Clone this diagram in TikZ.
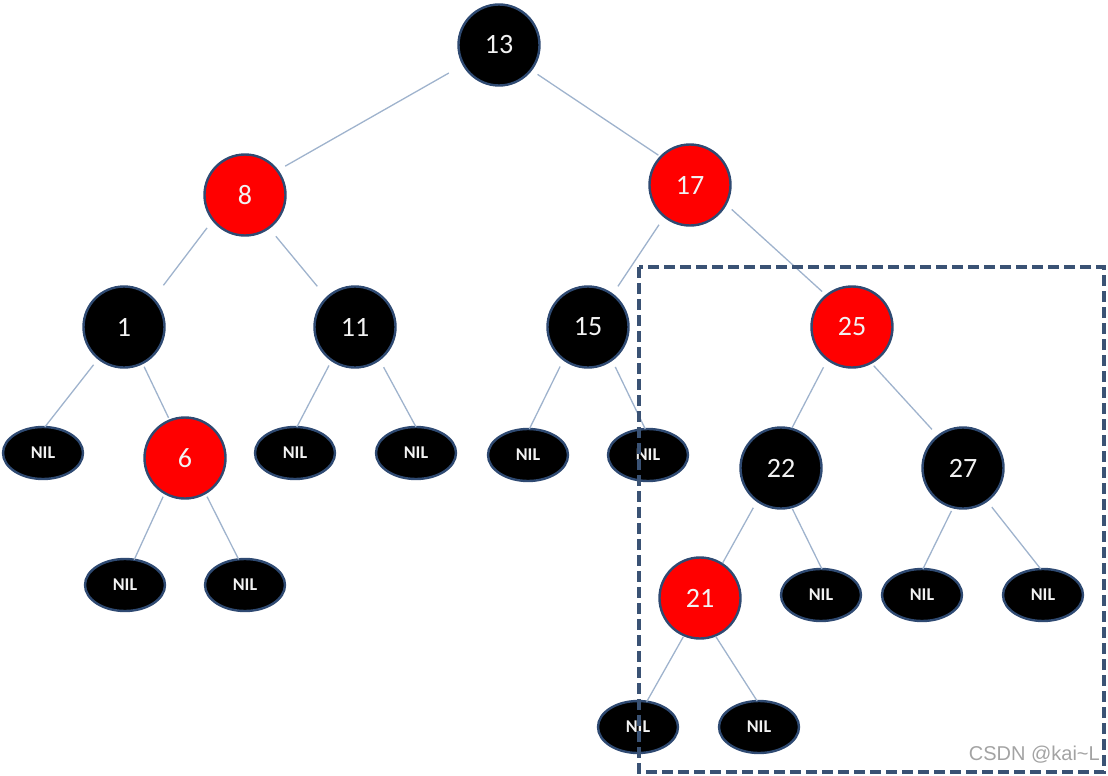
\documentclass[tikz,border=0pt]{standalone}
\usepackage{fontspec}
\setmainfont{Carlito}
\newfontfamily\wmfont{Liberation Sans}
\usetikzlibrary{shapes.geometric}
\definecolor{nodeedge}{HTML}{2F4A72}
\definecolor{edgecol}{HTML}{9FB3CD}
\definecolor{rbred}{HTML}{FF0000}
\definecolor{boxcol}{HTML}{3A5274}
\definecolor{txtcol}{HTML}{F2F2F2}
\definecolor{wmcol}{HTML}{A3A3A3}
\tikzset{
  rbnode/.style={circle, minimum size=81pt, inner sep=0pt, outer sep=0pt,
    draw=nodeedge, line width=2.4pt, text=txtcol,
    font=\fontsize{28}{28}\selectfont},
  blknode/.style={rbnode, fill=black},
  rednode/.style={rbnode, fill=rbred},
  nilnode/.style={ellipse, minimum width=80pt, minimum height=52pt, inner sep=0pt,
    outer sep=0pt, fill=black, draw=nodeedge, line width=2.4pt, text=txtcol,
    font=\fontsize{18}{18}\selectfont\bfseries},
  edge/.style={draw=edgecol, line width=1.3pt},
  regionbox/.style={draw=boxcol, line width=3.2pt, dash pattern=on 11pt off 5pt}
}
\begin{document}
\begin{tikzpicture}[x=1pt, y=-1pt]
\useasboundingbox (0,0) rectangle (1108,776);
% level 0
\node[blknode] (n13) at (499,45) {13};
% level 1
\node[rednode] (n8) at (245,195) {8};
\node[rednode] (n17) at (690,185) {17};
% level 2
\node[blknode] (n1) at (124,327) {1};
\node[blknode] (n11) at (355,327) {11};
\node[blknode] (n15) at (588,327) {15};
\node[rednode] (n25) at (852,327) {25};
% level 3
\node[nilnode] (nilA) at (43,453) {NIL};
\node[rednode] (n6) at (185,458) {6};
\node[nilnode] (nilB) at (295,453) {NIL};
\node[nilnode] (nilC) at (416,453) {NIL};
\node[nilnode] (nilD) at (528,455) {NIL};
\node[nilnode] (nilE) at (648,455) {NIL};
\node[blknode] (n22) at (781,468) {22};
\node[blknode] (n27) at (963,468) {27};
% level 4
\node[nilnode] (nilF) at (125,585) {NIL};
\node[nilnode] (nilG) at (245,585) {NIL};
\node[rednode] (n21) at (700,598) {21};
\node[nilnode] (nilH) at (821,595) {NIL};
\node[nilnode] (nilI) at (922,595) {NIL};
\node[nilnode] (nilJ) at (1043,595) {NIL};
% level 5
\node[nilnode] (nilK) at (638,727) {NIL};
\node[nilnode] (nilL) at (759,727) {NIL};
% edges
\draw[edge, shorten <=17pt, shorten >=9pt] (n13.209) -- (n8.37);
\draw[edge, shorten <=8pt, shorten >=3pt] (n13.322) -- (n17.136);
\draw[edge, shorten <=10pt, shorten >=10pt] (n17.231) -- (n15.53);
\draw[edge, shorten <=8pt, shorten >=6pt] (n17.332) -- (n25.129);
\draw[edge, shorten <=10pt, shorten >=17pt] (n8.218) -- (n1.44);
\draw[edge, shorten <=11pt, shorten >=15pt] (n8.306) -- (n11.134);
\draw[edge, shorten <=8pt] (n1.231) -- (nilA.86);
\draw[edge, shorten <=4pt, shorten >=3pt] (n1.297) -- (n6.112);
\draw[edge, shorten <=6pt] (n11.235) -- (nilB.86);
\draw[edge, shorten <=9pt] (n11.307) -- (nilC.90);
\draw[edge, shorten <=8pt] (n15.233) -- (nilD.87);
\draw[edge, shorten <=8pt] (n15.306) -- (nilE.96);
\draw[edge, shorten <=4pt] (n6.240) -- (nilF.70);
\draw[edge, shorten <=4pt] (n6.300) -- (nilG.104);
\draw[edge, shorten <=9pt, shorten >=1pt] (n25.233) -- (n22.75);
\draw[edge, shorten <=4pt, shorten >=9pt] (n25.298) -- (n27.128);
\draw[edge, shorten <=8pt, shorten >=1pt] (n22.234) -- (n21.57);
\draw[edge, shorten <=2pt] (n22.285) -- (nilH.88);
\draw[edge, shorten <=4pt] (n27.256) -- (nilI.88);
\draw[edge, shorten <=8pt] (n27.306) -- (nilJ.95);
\draw[edge, shorten <=2pt] (n21.247) -- (nilK.71);
\draw[edge, shorten <=1pt] (n21.292) -- (nilL.94);
% watermark
\node[anchor=east, text=wmcol, font=\wmfont\fontsize{20}{20}\selectfont, inner sep=0pt] (wm) at (1100,755) {CSDN @kai\textasciitilde L};
% dashed region
\draw[regionbox] (639,267) rectangle (1104,772);
\end{tikzpicture}
\end{document}
